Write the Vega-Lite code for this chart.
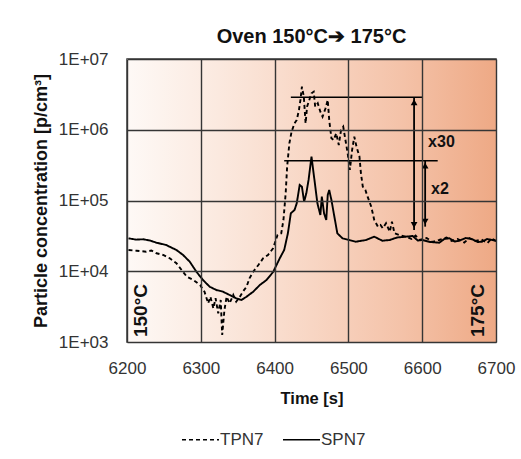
{
  "$schema": "https://vega.github.io/schema/vega-lite/v6.json",
  "width": 369,
  "height": 283,
  "autosize": {"type": "none"},
  "padding": {"left": 127, "top": 59, "right": 25, "bottom": 117},
  "background": "white",
  "title": {"text": "Oven 150°C➔ 175°C", "fontSize": 20, "font": "Liberation Sans", "fontWeight": "bold", "color": "#111111", "offset": 3, "anchor": "middle"},
  "config": {
    "view": {"stroke": "#3c3c3c", "strokeWidth": 1.5},
    "legend": {"labelFont": "Liberation Sans", "labelFontSize": 17, "labelColor": "#333333"}
  },
  "datasets": {
    "bg": [{"t": 6200, "t2": 6700, "v": 1000, "v2": 10000000}],
    "series": [
      {"t": 6202, "v": 19960, "s": "TPN7"}, {"t": 6213, "v": 19500, "s": "TPN7"}, {"t": 6226, "v": 18900, "s": "TPN7"}, {"t": 6233, "v": 19640, "s": "TPN7"}, {"t": 6240, "v": 17940, "s": "TPN7"}, {"t": 6249, "v": 16980, "s": "TPN7"}, {"t": 6258, "v": 15240, "s": "TPN7"}, {"t": 6267, "v": 12950, "s": "TPN7"}, {"t": 6274, "v": 10420, "s": "TPN7"}, {"t": 6281, "v": 8380, "s": "TPN7"}, {"t": 6290, "v": 7520, "s": "TPN7"}, {"t": 6299, "v": 6390, "s": "TPN7"}, {"t": 6305, "v": 5140, "s": "TPN7"}, {"t": 6310, "v": 3520, "s": "TPN7"}, {"t": 6313, "v": 4370, "s": "TPN7"}, {"t": 6317, "v": 2990, "s": "TPN7"}, {"t": 6320, "v": 4150, "s": "TPN7"}, {"t": 6323.6, "v": 2540, "s": "TPN7"}, {"t": 6327, "v": 3920, "s": "TPN7"}, {"t": 6329, "v": 1256, "s": "TPN7"}, {"t": 6332, "v": 2830, "s": "TPN7"}, {"t": 6335, "v": 4370, "s": "TPN7"}, {"t": 6339, "v": 3520, "s": "TPN7"}, {"t": 6344, "v": 4620, "s": "TPN7"}, {"t": 6348, "v": 3710, "s": "TPN7"}, {"t": 6353, "v": 4370, "s": "TPN7"}, {"t": 6357, "v": 5140, "s": "TPN7"}, {"t": 6362, "v": 6050, "s": "TPN7"}, {"t": 6366, "v": 7950, "s": "TPN7"}, {"t": 6371, "v": 9860, "s": "TPN7"}, {"t": 6378, "v": 12250, "s": "TPN7"}, {"t": 6384.5, "v": 15240, "s": "TPN7"}, {"t": 6391, "v": 16980, "s": "TPN7"}, {"t": 6398, "v": 21100, "s": "TPN7"}, {"t": 6404, "v": 32550, "s": "TPN7"}, {"t": 6409, "v": 34400, "s": "TPN7"}, {"t": 6412, "v": 53000, "s": "TPN7"}, {"t": 6415, "v": 126400, "s": "TPN7"}, {"t": 6417, "v": 300500, "s": "TPN7"}, {"t": 6420, "v": 643000, "s": "TPN7"}, {"t": 6423, "v": 938000, "s": "TPN7"}, {"t": 6427, "v": 1233000, "s": "TPN7"}, {"t": 6430, "v": 1374000, "s": "TPN7"}, {"t": 6433, "v": 1901000, "s": "TPN7"}, {"t": 6435, "v": 2632000, "s": "TPN7"}, {"t": 6437, "v": 4060000, "s": "TPN7"}, {"t": 6439.6, "v": 2931000, "s": "TPN7"}, {"t": 6442, "v": 1233000, "s": "TPN7"}, {"t": 6444, "v": 2117000, "s": "TPN7"}, {"t": 6447, "v": 2632000, "s": "TPN7"}, {"t": 6450, "v": 3275000, "s": "TPN7"}, {"t": 6453, "v": 3450000, "s": "TPN7"}, {"t": 6455, "v": 2117000, "s": "TPN7"}, {"t": 6458.5, "v": 2364000, "s": "TPN7"}, {"t": 6462, "v": 1799000, "s": "TPN7"}, {"t": 6465, "v": 1528000, "s": "TPN7"}, {"t": 6469, "v": 2010000, "s": "TPN7"}, {"t": 6472, "v": 2632000, "s": "TPN7"}, {"t": 6474, "v": 1374000, "s": "TPN7"}, {"t": 6477, "v": 757000, "s": "TPN7"}, {"t": 6480, "v": 716000, "s": "TPN7"}, {"t": 6483.5, "v": 891000, "s": "TPN7"}, {"t": 6487, "v": 608000, "s": "TPN7"}, {"t": 6490, "v": 991000, "s": "TPN7"}, {"t": 6493, "v": 1104000, "s": "TPN7"}, {"t": 6496, "v": 716000, "s": "TPN7"}, {"t": 6499, "v": 464000, "s": "TPN7"}, {"t": 6502, "v": 270000, "s": "TPN7"}, {"t": 6505, "v": 517000, "s": "TPN7"}, {"t": 6508, "v": 798000, "s": "TPN7"}, {"t": 6511, "v": 576000, "s": "TPN7"}, {"t": 6515, "v": 416000, "s": "TPN7"}, {"t": 6517, "v": 242000, "s": "TPN7"}, {"t": 6519.5, "v": 156700, "s": "TPN7"}, {"t": 6523, "v": 140700, "s": "TPN7"}, {"t": 6526, "v": 113200, "s": "TPN7"}, {"t": 6531, "v": 81700, "s": "TPN7"}, {"t": 6535, "v": 53000, "s": "TPN7"}, {"t": 6540, "v": 42650, "s": "TPN7"}, {"t": 6543.5, "v": 45070, "s": "TPN7"}, {"t": 6546.6, "v": 40450, "s": "TPN7"}, {"t": 6551, "v": 47600, "s": "TPN7"}, {"t": 6556, "v": 36230, "s": "TPN7"}, {"t": 6559, "v": 50120, "s": "TPN7"}, {"t": 6562.5, "v": 34400, "s": "TPN7"}, {"t": 6569, "v": 32550, "s": "TPN7"}, {"t": 6578, "v": 30800, "s": "TPN7"}, {"t": 6585.5, "v": 28570, "s": "TPN7"}, {"t": 6591, "v": 32000, "s": "TPN7"}, {"t": 6596, "v": 27650, "s": "TPN7"}, {"t": 6606, "v": 29500, "s": "TPN7"}, {"t": 6614, "v": 25900, "s": "TPN7"}, {"t": 6623, "v": 27650, "s": "TPN7"}, {"t": 6633, "v": 30000, "s": "TPN7"}, {"t": 6640, "v": 26800, "s": "TPN7"}, {"t": 6648, "v": 28570, "s": "TPN7"}, {"t": 6657, "v": 25470, "s": "TPN7"}, {"t": 6664, "v": 29500, "s": "TPN7"}, {"t": 6672, "v": 26800, "s": "TPN7"}, {"t": 6680, "v": 28100, "s": "TPN7"}, {"t": 6688.5, "v": 25080, "s": "TPN7"}, {"t": 6694, "v": 29040, "s": "TPN7"}, {"t": 6700, "v": 26800, "s": "TPN7"},
      {"t": 6202, "v": 29200, "s": "SPN7"}, {"t": 6212, "v": 28000, "s": "SPN7"}, {"t": 6222, "v": 28300, "s": "SPN7"}, {"t": 6231, "v": 27200, "s": "SPN7"}, {"t": 6240, "v": 25300, "s": "SPN7"}, {"t": 6253, "v": 23500, "s": "SPN7"}, {"t": 6267, "v": 19960, "s": "SPN7"}, {"t": 6276, "v": 16980, "s": "SPN7"}, {"t": 6285, "v": 13650, "s": "SPN7"}, {"t": 6294, "v": 9860, "s": "SPN7"}, {"t": 6303, "v": 7520, "s": "SPN7"}, {"t": 6312, "v": 6050, "s": "SPN7"}, {"t": 6321, "v": 5430, "s": "SPN7"}, {"t": 6330, "v": 5140, "s": "SPN7"}, {"t": 6339, "v": 4620, "s": "SPN7"}, {"t": 6348, "v": 4150, "s": "SPN7"}, {"t": 6355, "v": 3920, "s": "SPN7"}, {"t": 6362, "v": 4370, "s": "SPN7"}, {"t": 6371, "v": 5140, "s": "SPN7"}, {"t": 6380, "v": 6390, "s": "SPN7"}, {"t": 6389, "v": 7520, "s": "SPN7"}, {"t": 6398, "v": 9760, "s": "SPN7"}, {"t": 6407, "v": 15240, "s": "SPN7"}, {"t": 6413, "v": 19960, "s": "SPN7"}, {"t": 6418, "v": 34400, "s": "SPN7"}, {"t": 6422, "v": 65900, "s": "SPN7"}, {"t": 6427, "v": 73400, "s": "SPN7"}, {"t": 6430, "v": 91300, "s": "SPN7"}, {"t": 6434, "v": 165600, "s": "SPN7"}, {"t": 6437, "v": 156700, "s": "SPN7"}, {"t": 6440, "v": 96200, "s": "SPN7"}, {"t": 6443, "v": 126400, "s": "SPN7"}, {"t": 6446, "v": 195000, "s": "SPN7"}, {"t": 6450, "v": 416000, "s": "SPN7"}, {"t": 6454, "v": 195000, "s": "SPN7"}, {"t": 6458, "v": 91300, "s": "SPN7"}, {"t": 6462, "v": 62400, "s": "SPN7"}, {"t": 6464, "v": 113200, "s": "SPN7"}, {"t": 6467, "v": 65900, "s": "SPN7"}, {"t": 6470, "v": 53000, "s": "SPN7"}, {"t": 6472, "v": 119600, "s": "SPN7"}, {"t": 6474, "v": 140700, "s": "SPN7"}, {"t": 6477, "v": 101600, "s": "SPN7"}, {"t": 6481, "v": 59000, "s": "SPN7"}, {"t": 6485, "v": 34400, "s": "SPN7"}, {"t": 6492, "v": 29200, "s": "SPN7"}, {"t": 6501, "v": 27650, "s": "SPN7"}, {"t": 6510, "v": 26160, "s": "SPN7"}, {"t": 6524, "v": 27650, "s": "SPN7"}, {"t": 6535, "v": 30800, "s": "SPN7"}, {"t": 6546, "v": 27000, "s": "SPN7"}, {"t": 6556, "v": 27650, "s": "SPN7"}, {"t": 6566, "v": 30000, "s": "SPN7"}, {"t": 6578, "v": 30800, "s": "SPN7"}, {"t": 6587, "v": 31500, "s": "SPN7"}, {"t": 6594, "v": 27200, "s": "SPN7"}, {"t": 6600, "v": 27650, "s": "SPN7"}, {"t": 6611, "v": 25900, "s": "SPN7"}, {"t": 6623, "v": 25300, "s": "SPN7"}, {"t": 6630, "v": 28570, "s": "SPN7"}, {"t": 6637, "v": 29200, "s": "SPN7"}, {"t": 6644, "v": 26330, "s": "SPN7"}, {"t": 6650, "v": 27000, "s": "SPN7"}, {"t": 6659, "v": 29500, "s": "SPN7"}, {"t": 6668, "v": 28300, "s": "SPN7"}, {"t": 6675, "v": 25900, "s": "SPN7"}, {"t": 6681, "v": 26160, "s": "SPN7"}, {"t": 6688, "v": 28570, "s": "SPN7"}, {"t": 6695, "v": 27650, "s": "SPN7"}, {"t": 6700, "v": 26790, "s": "SPN7"}
    ],
    "hlines": [{"t": 6422, "t2": 6600, "v": 2880000}, {"t": 6413, "t2": 6621, "v": 365000}],
    "arrows": [{"t": 6589, "v": 2880000, "v2": 38300}, {"t": 6604, "v": 365000, "v2": 42700}],
    "headsUp": [{"t": 6589, "v": 2880000}, {"t": 6604, "v": 365000}],
    "headsDown": [{"t": 6589, "v": 38300}, {"t": 6604, "v": 42700}],
    "notes": [{"t": 6608, "v": 665000, "label": "x30"}, {"t": 6612, "v": 146000, "label": "x2"}],
    "temps": [{"t": 6219.6, "v": 2786, "label": "150°C"}, {"t": 6676, "v": 2786, "label": "175°C"}]
  },
  "encoding": {
    "x": {
      "field": "t", "type": "quantitative",
      "scale": {"domain": [6200, 6700], "nice": false, "zero": false},
      "axis": {"title": "Time [s]", "values": [6200, 6300, 6400, 6500, 6600, 6700], "format": "d", "grid": true, "gridColor": "#353535", "gridWidth": 1.4, "gridOpacity": 1, "domain": false, "ticks": false, "labelPadding": 18, "labelFontSize": 17, "labelFont": "Liberation Sans", "labelColor": "#333333", "labelFlush": false, "titleFont": "Liberation Sans", "titleFontSize": 16.5, "titleFontWeight": "bold", "titleColor": "#111111", "titlePadding": 14, "zindex": 1}
    },
    "y": {
      "field": "v", "type": "quantitative",
      "scale": {"type": "log", "domain": [1000, 10000000], "nice": false},
      "axis": {"title": "Particle concentration [p/cm³]", "values": [1000, 10000, 100000, 1000000, 10000000], "labelExpr": "'1E+0' + round(log(datum.value)/LN10)", "grid": true, "gridColor": "#353535", "gridWidth": 1.4, "gridOpacity": 1, "domain": false, "ticks": false, "labelPadding": 19, "labelFontSize": 17, "labelFont": "Liberation Sans", "labelColor": "#333333", "labelFlush": false, "titleFont": "Liberation Sans", "titleFontSize": 18, "titleFontWeight": "bold", "titleColor": "#111111", "titlePadding": 8, "zindex": 1}
    }
  },
  "layer": [
    {
      "data": {"name": "bg"},
      "mark": {"type": "rect", "fill": {"gradient": "linear", "x1": 0, "y1": 0, "x2": 1, "y2": 0, "stops": [{"offset": 0, "color": "#fef9f6"}, {"offset": 0.25, "color": "#fbe9df"}, {"offset": 0.5, "color": "#f8d6c4"}, {"offset": 0.75, "color": "#f4c2a8"}, {"offset": 1, "color": "#eea985"}]}},
      "encoding": {"x2": {"field": "t2"}, "y2": {"field": "v2"}}
    },
    {
      "data": {"name": "series"},
      "mark": {"type": "line", "color": "black", "strokeWidth": 1.9, "clip": true},
      "encoding": {
        "strokeDash": {"field": "s", "type": "nominal", "scale": {"domain": ["TPN7", "SPN7"], "range": [[4, 3], [1, 0]]},
          "legend": {"title": null, "orient": "none", "legendX": 54, "legendY": 361, "direction": "horizontal", "symbolType": "stroke", "symbolSize": 1369, "symbolStrokeWidth": 1.5, "symbolStrokeColor": "black", "labelOffset": 0, "columnPadding": 16, "padding": 0}
        }
      }
    },
    {
      "data": {"name": "hlines"},
      "mark": {"type": "rule", "color": "black", "strokeWidth": 1.6},
      "encoding": {"x2": {"field": "t2"}}
    },
    {
      "data": {"name": "arrows"},
      "mark": {"type": "rule", "color": "black", "strokeWidth": 1.8},
      "encoding": {"y2": {"field": "v2"}}
    },
    {
      "data": {"name": "headsUp"},
      "mark": {"type": "point", "shape": "triangle-up", "filled": true, "color": "black", "size": 45, "opacity": 1, "yOffset": 5},
      "encoding": {}
    },
    {
      "data": {"name": "headsDown"},
      "mark": {"type": "point", "shape": "triangle-down", "filled": true, "color": "black", "size": 45, "opacity": 1, "yOffset": -5},
      "encoding": {}
    },
    {
      "data": {"name": "notes"},
      "mark": {"type": "text", "align": "left", "baseline": "middle", "font": "Liberation Sans", "fontSize": 16, "fontWeight": "bold", "color": "#111111"},
      "encoding": {"text": {"field": "label"}}
    },
    {
      "data": {"name": "temps"},
      "mark": {"type": "text", "align": "center", "baseline": "middle", "angle": 270, "font": "Liberation Sans", "fontSize": 19, "fontWeight": "bold", "color": "#111111"},
      "encoding": {"text": {"field": "label"}}
    }
  ]
}
